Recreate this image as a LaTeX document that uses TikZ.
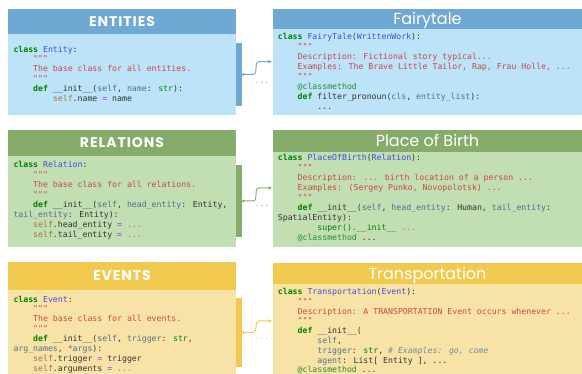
\documentclass[tikz,border=0pt]{standalone}
\usepackage{fontspec}
\usetikzlibrary{arrows.meta}
\newfontfamily\codefont{DejaVu Sans Mono}
\newfontfamily\headfont{Poppins}
\newfontfamily\capsfont{Poppins}[LetterSpace=7]
\definecolor{entdark}{HTML}{6FA8D3}
\definecolor{entlight}{HTML}{BDE3F8}
\definecolor{reldark}{HTML}{86AC6C}
\definecolor{rellight}{HTML}{C1DFB2}
\definecolor{evtdark}{HTML}{F2C94F}
\definecolor{evtlight}{HTML}{F8E3A6}
\definecolor{codetext}{HTML}{333333}
\definecolor{kwgreen}{HTML}{008000}
\definecolor{clsblue}{HTML}{3B4FE0}
\definecolor{strred}{HTML}{C84848}
\definecolor{selfbrown}{HTML}{A5733F}
\definecolor{argblue}{HTML}{506E91}
\definecolor{oppurple}{HTML}{AA33E6}
\definecolor{ellorange}{HTML}{BE783C}
\definecolor{comgray}{HTML}{708C94}
\definecolor{decgreen}{HTML}{2A8C2A}
\newcommand\pydots{...}
\newcommand\pykw[1]{{\bfseries\color{kwgreen}#1}}
\newcommand\pycls[1]{\textcolor{clsblue}{#1}}
\newcommand\pystr[1]{\textcolor{strred}{#1}}
\newcommand\pyself[1]{\textcolor{selfbrown}{#1}}
\newcommand\pyarg[1]{\textcolor{argblue}{#1}}
\newcommand\pyop[1]{\textcolor{oppurple}{#1}}
\newcommand\pybi[1]{\textcolor{kwgreen}{#1}}
\newcommand\pyell{\textcolor{ellorange}{\pydots}}
\newcommand\pycom[1]{{\itshape\color{comgray}#1}}
\newcommand\pydec[1]{\textcolor{decgreen}{#1}}
\newcommand\pyind{\phantom{0000}}
\begin{document}
\begin{tikzpicture}[x=1pt,y=-1pt,
  panel/.style={anchor=north west,inner sep=0pt,outer sep=0pt},
  lhead/.style={panel,minimum width=228pt,text=white,font=\capsfont\bfseries\fontsize{14}{15}\selectfont,text height=9.8pt,text depth=0pt},
  rhead/.style={panel,minimum width=309pt,text=white,font=\headfont\fontsize{16}{17}\selectfont,text height=11.2pt,text depth=0pt},
  lbody/.style={panel,minimum width=228pt},
  rbody/.style={panel,minimum width=309pt},
  sidebar/.style={panel,minimum width=6pt},
  code/.style={anchor=base west,inner sep=0pt,text=codetext,font=\codefont\fontsize{8.2}{10}\selectfont},
  gap/.style={inner sep=0pt,font=\codefont\fontsize{8}{8}\selectfont},
  link/.style={line width=1pt,arrows={Circle[length=2.6pt]-Stealth[length=4pt,width=3.6pt]}}]
\useasboundingbox (0,0) rectangle (582,374);
\begin{scope}
  \node[lhead,fill=entdark,minimum height=25pt] (enthead) at (8,9) {ENTITIES};
  \node[lbody,fill=entlight,minimum height=81pt] (entbody) at (8,34) {};
  \node[sidebar,fill=entdark,minimum height=63pt] (entbar) at (236,43) {};
  \node[rhead,fill=entdark,minimum height=20pt] (fairyhead) at (273,9) {Fairytale};
  \node[rbody,fill=entlight,minimum height=86pt] (fairybody) at (273,29) {};
  \foreach \t [count=\i from 0] in {
    {\pykw{class} \pycls{Entity}:},
    {\pyind\pystr{"""}},
    {\pyind\pystr{The base class for all entities.}},
    {\pyind\pystr{"""}},
    {\pyind\pykw{def} \_\_init\_\_(\pyarg{self}, \pyarg{name}: \pybi{str}):},
    {\pyind\pyind\pyself{self}.name \pyop{=} name}
  }
  \node[code] (entline\i) at (13.3,52.2+\i*9.8) {\t};
  \foreach \t [count=\i from 0] in {
    {\pykw{class} \pycls{FairyTale}(\pycls{WrittenWork}):},
    {\pyind\pystr{"""}},
    {\pyind\pystr{Description: Fictional story typical\pydots}},
    {\pyind\pystr{Examples: The Brave Little Tailor, Rap, Frau Holle, \pydots}},
    {\pyind\pystr{"""}},
    {\pyind\pydec{@classmethod}},
    {\pyind\pykw{def} filter\_pronoun(\pyarg{cls}, \pyarg{entity\_list}):},
    {\pyind\pyind\pydots}
  }
  \node[code] (fairyline\i) at (277.7,39.5+\i*10) {\t};
  \coordinate (fairyin) at (272,61.7);
  \draw[link,entdark] (entbar.east) -- ++(11,0) to[out=0,in=180] (259,61.7) -- (fairyin);
  \node[gap,text=entdark] (entgap) at (262,83) {\pydots};
\end{scope}
\begin{scope}
  \node[lhead,fill=reldark,minimum height=26pt] (relhead) at (8,130) {RELATIONS};
  \node[lbody,fill=rellight,minimum height=91pt] (relbody) at (8,156) {};
  \node[sidebar,fill=reldark,minimum height=72pt] (relbar) at (236,165) {};
  \node[rhead,fill=reldark,minimum height=22pt] (birthhead) at (273,130) {Place of Birth};
  \node[rbody,fill=rellight,minimum height=95pt] (birthbody) at (273,152) {};
  \foreach \t [count=\i from 0] in {
    {\pykw{class} \pycls{Relation}:},
    {\pyind\pystr{"""}},
    {\pyind\pystr{The base class for all relations.}},
    {\pyind\pystr{"""}},
    {\pyind\pykw{def} \_\_init\_\_(\pyarg{self}, \pyarg{head\_entity}: Entity,},
    {\pyarg{tail\_entity}: Entity):},
    {\pyind\pyself{self}.head\_entity \pyop{=} \pyell},
    {\pyind\pyself{self}.tail\_entity \pyop{=} \pyell}
  }
  \node[code] (relline\i) at (13.3,167.8+\i*9.9) {\t};
  \foreach \t [count=\i from 0] in {
    {\pykw{class} \pycls{PlaceOfBirth}(\pycls{Relation}):},
    {\pyind\pystr{"""}},
    {\pyind\pystr{Description: \pydots{} birth location of a person \pydots}},
    {\pyind\pystr{Examples: (Sergey Punko, Novopolotsk) \pydots}},
    {\pyind\pystr{"""}},
    {\pyind\pykw{def} \_\_init\_\_(\pyarg{self}, \pyarg{head\_entity}: Human, \pyarg{tail\_entity}:},
    {SpatialEntity):},
    {\pyind\pyind\pybi{super().\_\_init\_\_} \pyell},
    {\pyind\pydec{@classmethod} \pydots}
  }
  \node[code] (birthline\i) at (277.7,160.8+\i*10) {\t};
  \coordinate (birthin) at (272,188);
  \draw[link,reldark] (relbar.east) -- ++(11,0) to[out=0,in=180] (259,188) -- (birthin);
  \node[gap,text=reldark] (relgap) at (262,206) {\pydots};
\end{scope}
\begin{scope}
  \node[lhead,fill=evtdark,minimum height=28pt] (evthead) at (8,262) {EVENTS};
  \node[lbody,fill=evtlight,minimum height=84pt] (evtbody) at (8,290) {};
  \node[sidebar,fill=evtdark,minimum height=69pt] (evtbar) at (236,298) {};
  \node[rhead,fill=evtdark,minimum height=21pt] (transhead) at (273,263) {Transportation};
  \node[rbody,fill=evtlight,minimum height=90pt] (transbody) at (273,284) {};
  \foreach \t [count=\i from 0] in {
    {\pykw{class} \pycls{Event}:},
    {\pyind\pystr{"""}},
    {\pyind\pystr{The base class for all events.}},
    {\pyind\pystr{"""}},
    {\pyind\pykw{def} \_\_init\_\_(\pyarg{self}, \pyarg{trigger}: \pybi{str},},
    {\pyarg{arg\_names}, \pyop{*}\pyarg{args}):},
    {\pyind\pyself{self}.trigger \pyop{=} trigger},
    {\pyind\pyself{self}.arguments \pyop{=} \pyell}
  }
  \node[code] (evtline\i) at (13.3,302.1+\i*9.86) {\t};
  \foreach \t [count=\i from 0] in {
    {\pykw{class} \pycls{Transportation}(\pycls{Event}):},
    {\pyind\pystr{"""}},
    {\pyind\pystr{Description: A TRANSPORTATION Event occurs whenever \pydots}},
    {\pyind\pystr{"""}},
    {\pyind\pykw{def} \_\_init\_\_(},
    {\pyind\pyind\pyarg{self},},
    {\pyind\pyind\pyarg{trigger}: \pybi{str}, \pycom{\# Examples: go, come}},
    {\pyind\pyind\pyarg{agent}: List[ Entity ], \pydots},
    {\pyind\pydec{@classmethod} \pydots}
  }
  \node[code] (transline\i) at (277.7,294.5+\i*9.8) {\t};
  \coordinate (transin) at (272,321);
  \draw[link,evtdark] (evtbar.east) -- ++(11,0) to[out=0,in=180] (259,321) -- (transin);
  \node[gap,text=evtdark] (evtgap) at (262,339) {\pydots};
\end{scope}
\end{tikzpicture}
\end{document}
